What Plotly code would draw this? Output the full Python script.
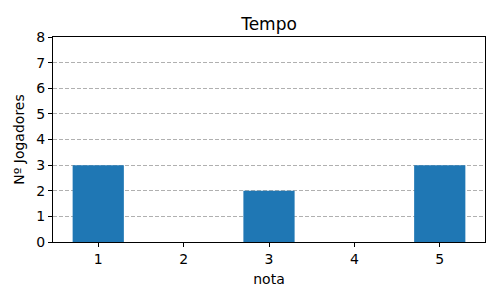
import plotly.graph_objects as go

notas = [1, 2, 3, 4, 5]
jogadores = [3, 0, 2, 0, 3]
y_ticks = [0, 1, 2, 3, 4, 5, 6, 7, 8]

fig = go.Figure(go.Bar(x=notas, y=jogadores, width=0.6, marker=dict(color="#1f77b4", line=dict(width=0))))

font = dict(family="DejaVu Sans", size=14, color="black")
fig.update_layout(
    width=500, height=300,
    margin=dict(l=53, r=15, t=37, b=58),
    paper_bgcolor="white", plot_bgcolor="white",
    font=font,
    showlegend=False,
    title=dict(text="Tempo", x=0.538, xanchor="center", y=1 - 24/300, yanchor="middle",
               font=dict(family="DejaVu Sans", size=17, color="black")),
)
fig.update_xaxes(
    range=[0.47, 5.53], tickvals=notas, ticktext=[str(n) for n in notas],
    showgrid=False, zeroline=False,
    showline=True, linecolor="black", linewidth=1, mirror=True,
    ticks="outside", ticklen=4, tickcolor="black",
    title=dict(text="nota", standoff=8, font=font),
    layer="above traces",
)
fig.update_yaxes(
    range=[0, 8], tickvals=y_ticks,
    showgrid=True, gridcolor="#b0b0b0", griddash="4px,2px", gridwidth=1,
    zeroline=False,
    showline=True, linecolor="black", linewidth=1, mirror=True,
    ticks="outside", ticklen=4, tickcolor="black",
    title=dict(text="Nº Jogadores", standoff=8, font=font),
    layer="above traces",
)

fig.write_html("out.html")
